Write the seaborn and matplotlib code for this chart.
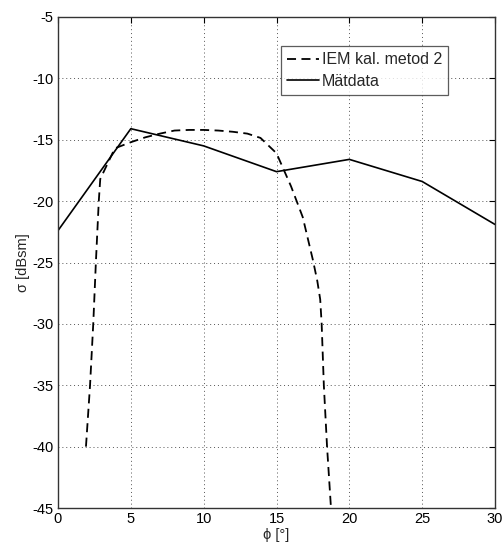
import matplotlib
matplotlib.use("Agg")
import matplotlib.pyplot as plt
import seaborn as sns
import pandas as pd

sns.set_theme(style="white")
plt.rcParams['font.family'] = ['Liberation Sans', 'DejaVu Sans']

iem_x = [1.92, 2.2, 2.42, 2.6, 2.8, 2.9, 3.9, 5, 6, 7, 8, 9, 10, 11, 12, 13, 13.9,
         15, 16, 16.8, 17.5, 17.8, 18.0, 18.1, 18.25, 18.47, 18.74, 18.9]
iem_y = [-40, -35, -30, -25, -20, -18.2, -15.7, -15.2, -14.8, -14.5, -14.25, -14.2,
         -14.2, -14.25, -14.35, -14.5, -14.85, -16.1, -18.8, -21.3, -24.8, -26.5,
         -28, -30, -35, -40, -45, -48]
mat_x = [0, 5, 10, 15, 20, 25, 30]
mat_y = [-22.4, -14.1, -15.5, -17.6, -16.6, -18.4, -21.9]

xticks = [0, 5, 10, 15, 20, 25, 30]
yticks = [-45, -40, -35, -30, -25, -20, -15, -10, -5]

fig = plt.figure(figsize=(5.04, 5.47), dpi=100)
ax = fig.add_axes([58/504, 1-508/547, (495-58)/504, (508-17)/547])

df1 = pd.DataFrame({"x": iem_x, "y": iem_y})
df2 = pd.DataFrame({"x": mat_x, "y": mat_y})
sns.lineplot(data=df1, x="x", y="y", ax=ax, color="black", linestyle=(0, (5, 3)),
             linewidth=1.3, label="IEM kal. metod 2", sort=False, estimator=None)
sns.lineplot(data=df2, x="x", y="y", ax=ax, color="black", linewidth=1.2,
             label="Mätdata", sort=False, estimator=None)

ax.set_xlim(0, 30)
ax.set_ylim(-45, -5)
ax.set_xticks(xticks)
ax.set_yticks(yticks)
ax.set_xticklabels([str(t) for t in xticks])
ax.set_yticklabels([str(t) for t in yticks])
ax.grid(True, linestyle=(0, (1, 3)), color="#555555", linewidth=0.7)
ax.tick_params(direction="in", top=True, right=True, length=4, width=0.8,
               labelsize=10.5, colors="black", pad=3)
for s in ax.spines.values():
    s.set_color("#333333")
    s.set_linewidth(1.0)
ax.set_xlabel("ϕ [°]", fontsize=10.5, labelpad=1)
ax.set_ylabel("σ [dBsm]", fontsize=10.5, labelpad=2)

leg = ax.legend(loc="upper left", bbox_to_anchor=((281-58)/437, 1-(46-17)/491),
                fontsize=11.5, frameon=True, fancybox=False, handlelength=2.0,
                handletextpad=0.15, borderpad=0.4, labelspacing=0.4,
                borderaxespad=0)
leg.get_frame().set_edgecolor("#333333")
leg.get_frame().set_linewidth(0.9)

fig.savefig("out.png", dpi=100)
